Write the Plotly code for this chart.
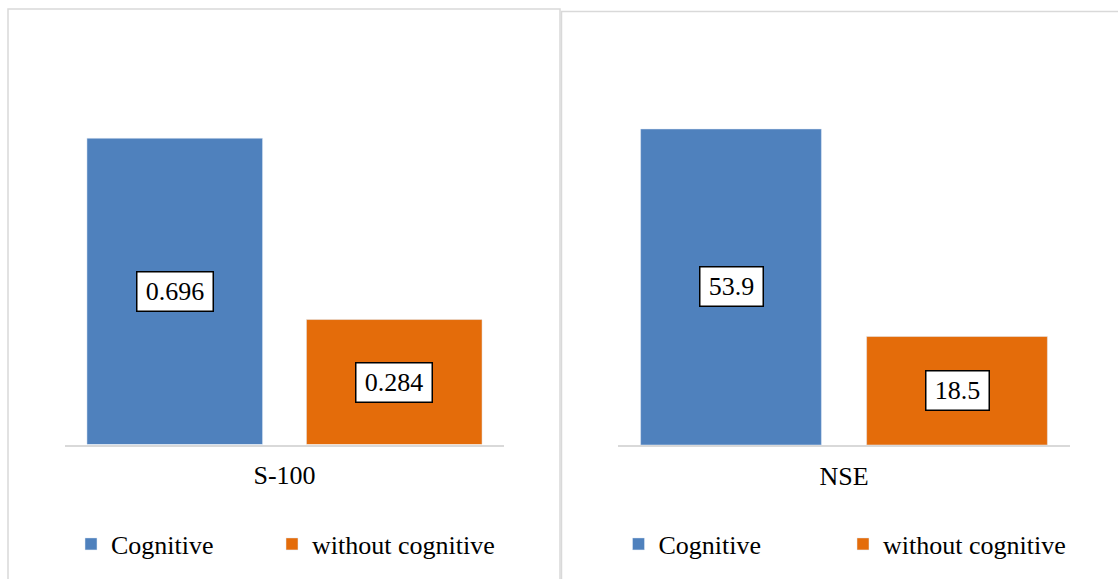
import plotly.graph_objects as go

# ---- data ----
panels = ["S-100", "NSE"]
series_names = ["Cognitive", "without cognitive"]
s100_values = [0.696, 0.284]
nse_values = [53.9, 18.5]
label_text_s100 = ["0.696", "0.284"]
label_text_nse = ["53.9", "18.5"]
colors = ["#4F81BD", "#E46C0A"]

W, H = 1118, 579
FONT = "Liberation Serif"
FS = 26
BARGAP = 0.0
GROUPGAP = 0.2

def px(x):
    return x / W

def py(y):
    return 1 - y / H

fig = go.Figure()

# each legend entry gets its own legend box so it can be placed like the original
legend_ids = [["legend", "legend3"], ["legend2", "legend4"]]
legend_x = [[71, 272], [618.5, 843]]

panel_data = [
    (panels[0], s100_values, label_text_s100, "x", "y"),
    (panels[1], nse_values, label_text_nse, "x2", "y2"),
]

for p, (cat, vals, labels, xa, ya) in enumerate(panel_data):
    for i, (name, v) in enumerate(zip(series_names, vals)):
        fig.add_trace(go.Bar(
            x=[cat], y=[v], name=name, marker_color=colors[i],
            xaxis=xa, yaxis=ya, legend=legend_ids[p][i], showlegend=True,
            hoverinfo="skip",
        ))
    # boxed data labels at the middle of each bar
    n = len(vals)
    slot = (1 - BARGAP) / n
    for i, (v, t) in enumerate(zip(vals, labels)):
        xpos = -0.5 + BARGAP / 2 + slot * (i + 0.5)
        fig.add_annotation(
            x=xpos, y=v / 2, xref=xa, yref=ya, text=t, showarrow=False,
            font=dict(family=FONT, size=FS, color="#000000"),
            width=13 * len(t) + 4, height=32, align="center", valign="middle",
            bgcolor="#FFFFFF", bordercolor="#000000", borderwidth=1.5, borderpad=3,
        )

axis_common = dict(
    showgrid=False, zeroline=False, showline=True, linecolor="#D9D9D9", linewidth=1.5,
    ticks="", tickfont=dict(family=FONT, size=FS, color="#000000"),
    ticklabelstandoff=7, fixedrange=True,
)
yaxis_common = dict(showgrid=False, zeroline=False, showline=False,
                    showticklabels=False, fixedrange=True)

legend_common = dict(orientation="h", xanchor="left", yanchor="middle", y=py(544),
                     font=dict(family=FONT, size=FS, color="#000000"),
                     bgcolor="rgba(0,0,0,0)")

legend_layout = {}
for p in range(2):
    for i in range(2):
        legend_layout[legend_ids[p][i]] = dict(x=px(legend_x[p][i]), **legend_common)

fig.update_layout(
    width=W, height=H,
    font=dict(family=FONT, size=FS, color="#000000"),
    margin=dict(l=0, r=0, t=0, b=0),
    paper_bgcolor="#FFFFFF", plot_bgcolor="#FFFFFF",
    barmode="group", bargap=BARGAP, bargroupgap=GROUPGAP,
    xaxis=dict(domain=[px(65), px(504)], anchor="y", range=[-0.5, 0.5], **axis_common),
    yaxis=dict(domain=[py(444.5), py(92.5)], anchor="x", range=[0, 0.8], **yaxis_common),
    xaxis2=dict(domain=[px(618), px(1070)], anchor="y2", range=[-0.5, 0.5], **axis_common),
    yaxis2=dict(domain=[py(445), py(93.2)], anchor="x2", range=[0, 60], **yaxis_common),
    shapes=[
        dict(type="rect", xref="paper", yref="paper", x0=px(8), x1=px(560), y0=-0.1, y1=py(9),
             line=dict(color="#D9D9D9", width=1.5), fillcolor="rgba(0,0,0,0)", layer="below"),
        dict(type="rect", xref="paper", yref="paper", x0=px(561.5), x1=1.1, y0=-0.1, y1=py(11.5),
             line=dict(color="#D9D9D9", width=1.5), fillcolor="rgba(0,0,0,0)", layer="below"),
    ],
    **legend_layout,
)

fig.write_html("out.html")
